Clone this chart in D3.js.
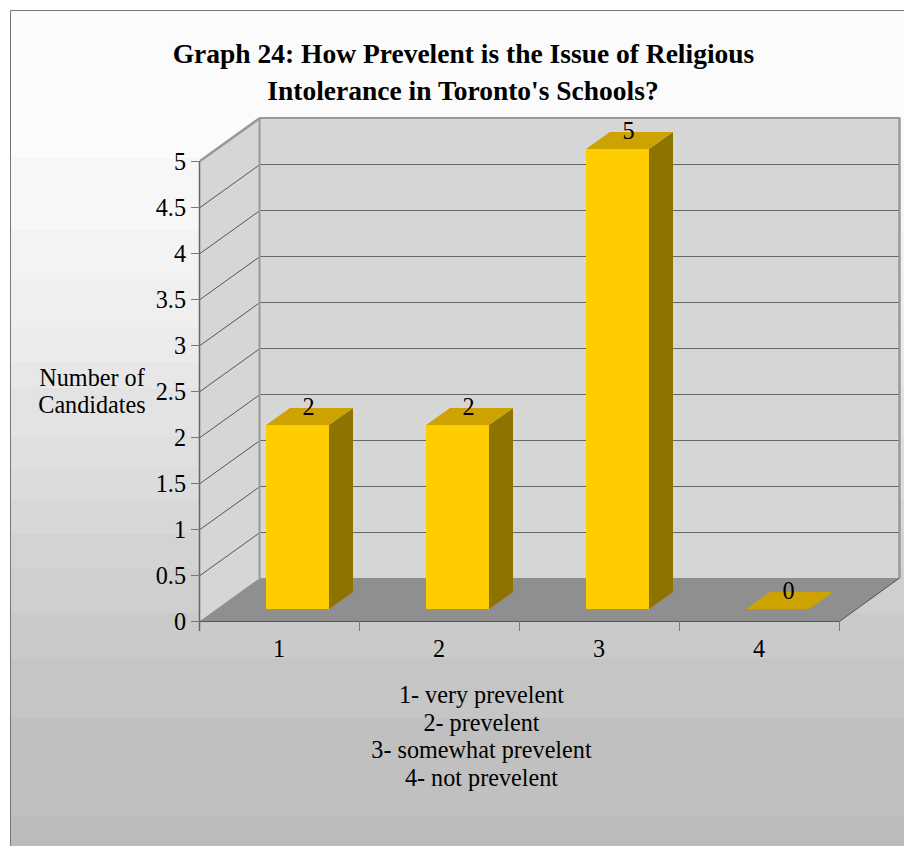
<!DOCTYPE html>
<html><head><meta charset="utf-8">
<script src="https://cdn.jsdelivr.net/npm/d3@7"></script>
<style>html,body{margin:0;padding:0;background:#fff}svg{display:block}text{font-family:"Liberation Serif","Times New Roman",serif;fill:#000}</style>
</head><body><svg id="c" width="904" height="846"></svg>
<script>
const categories=["1","2","3","4"];
const values=[2,2,5,0];
const yTicks=[0,0.5,1,1.5,2,2.5,3,3.5,4,4.5,5];
const titleLines=["Graph 24: How Prevelent is the Issue of Religious","Intolerance in Toronto's Schools?"];
const yAxisLines=["Number of","Candidates"];
const noteLines=["1- very prevelent","2- prevelent","3- somewhat prevelent","4- not prevelent"];
const bandTops=[11,158,230,279,327,362,388,436,468,501,534,569,613,659,718,816];
const bandColors=["#fbfbfb","#f7f7f7","#f3f3f3","#efefef","#ebebeb","#e7e7e7","#e3e3e3","#dfdfdf","#dbdddc","#d7d7d7","#d3d3d3","#cfcfcf","#cacaca","#c5c5c5","#c0c0c0","#bbbbbb"];

const svg=d3.select("#c");
const poly=(pts,fill,stroke)=>svg.append("polygon").attr("points",pts.map(p=>p.join(",")).join(" ")).attr("fill",fill).attr("stroke",stroke||"none");
const line=(x1,y1,x2,y2,c,w)=>svg.append("line").attr("x1",x1).attr("y1",y1).attr("x2",x2).attr("y2",y2).attr("stroke",c).attr("stroke-width",w||1);

svg.selectAll("rect.band").data(bandTops).join("rect").attr("class","band")
 .attr("x",11).attr("width",893).attr("y",d=>d)
 .attr("height",(d,i)=>(bandTops[i+1]||846)-d)
 .attr("fill",(d,i)=>bandColors[i]);
line(10.5,10.5,904,10.5,"#777");
line(10.5,10.5,10.5,846,"#777");

const x=d3.scaleBand().domain(categories).range([200,840]);
const y=d3.scaleLinear().domain([0,5]).range([621,161]);
const dx=60,dy=-43;
const [x0,x1]=x.range();
const y0=y(0),y5=y(5);

// walls
poly([[x0+dx,y0+dy],[x1+dx,y0+dy],[x1+dx,y5+dy],[x0+dx,y5+dy]],"#d6d6d6");
poly([[x0,y0],[x0+dx,y0+dy],[x0+dx,y5+dy],[x0,y5]],"#d6d6d6");
poly([[x0,y0],[x1,y0],[x1+dx,y0+dy],[x0+dx,y0+dy]],"#8f8f8f");

// gridlines
yTicks.slice(1,-1).forEach(t=>{
  const v=Math.round(y(t))+.5;
  line(x0,v,x0+dx,v+dy,"#555");
  line(x0+dx,v+dy,x1+dx,v+dy,"#666");
});
// wall frame
const fr="#999";
line(x0+dx,y5+dy,x1+dx,y5+dy,fr,2);
line(x1+dx-.5,y5+dy,x1+dx-.5,y0+dy,fr,2.5);
line(x0+dx-.5,y5+dy,x0+dx-.5,y0+dy,fr,2);
line(x0,y5,x0+dx,y5+dy,fr,2.5);

// axes
line(x0-.5,y5,x0-.5,y0+10,"#666",1.5);
line(x0-8,y0+.5,x1,y0+.5,"#555",1);
line(x1-.5,y0+.5,x1+dx-.5,y0+dy,"#555",1);
yTicks.forEach(t=>line(x0-9,Math.round(y(t))+.5,x0,Math.round(y(t))+.5,"#777"));
d3.range(1,5).forEach(i=>{const v=x0+i*x.step();line(v-.5,y0,v-.5,y0+10,"#777");});

svg.selectAll("text.yt").data(yTicks).join("text").attr("class","yt")
 .attr("x",x0-14).attr("y",d=>y(d)+9).attr("text-anchor","end").attr("font-size",24.2).text(d=>d);
svg.selectAll("text.xt").data(categories).join("text").attr("class","xt")
 .attr("x",d=>x(d)+x.step()/2-1).attr("y",657).attr("text-anchor","middle").attr("font-size",24.2).text(d=>d);

// bars
const bw=63,inset=66,fy=12,bdx=24,bdy=-17;
values.forEach((v,i)=>{
  const l=x(categories[i])+inset,r=l+bw,b=y0-fy,t=b-(y(0)-y(v));
  if(v>0){
    poly([[r,b],[r+bdx,b+bdy],[r+bdx,t+bdy],[r,t]],"#8f7300");
    poly([[l,b],[r,b],[r,t],[l,t]],"#ffcc00");
  }
  poly([[l,t],[r,t],[r+bdx,t+bdy],[l+bdx,t+bdy]],"#cca300");
  svg.append("text").attr("x",l+42.5).attr("y",t+bdy+7).attr("text-anchor","middle").attr("font-size",24.2).text(v);
});

svg.selectAll("text.ti").data(titleLines).join("text").attr("class","ti")
 .attr("x",(d,i)=>i?463:463.5).attr("y",(d,i)=>63+i*37).attr("text-anchor","middle")
 .attr("font-size",27.5).attr("font-weight","bold").text(d=>d);
svg.selectAll("text.ya").data(yAxisLines).join("text").attr("class","ya")
 .attr("x",92).attr("y",(d,i)=>386+i*27).attr("text-anchor","middle").attr("font-size",24.2).text(d=>d);
svg.selectAll("text.no").data(noteLines).join("text").attr("class","no")
 .attr("x",481.5).attr("y",(d,i)=>703+i*27.5).attr("text-anchor","middle").attr("font-size",24.2).text(d=>d);
</script></body></html>
